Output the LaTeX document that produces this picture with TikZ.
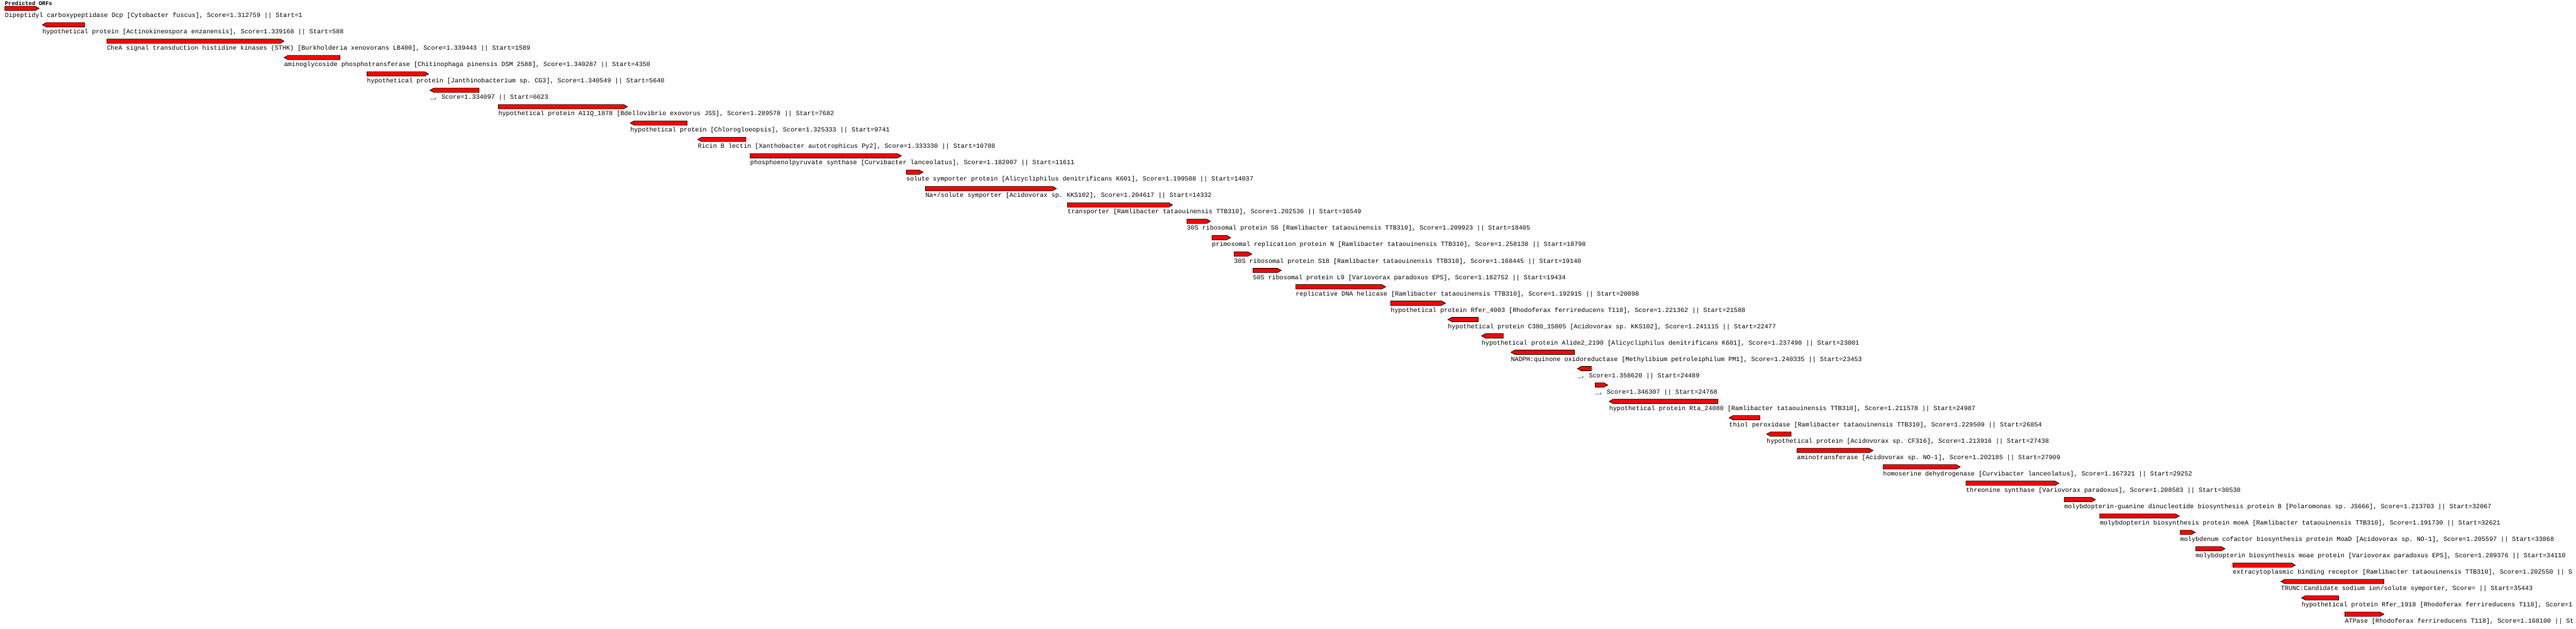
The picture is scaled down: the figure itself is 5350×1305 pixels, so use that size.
\documentclass[tikz,border=0pt]{standalone}
\usepackage{fontspec}
\setmonofont{Liberation Mono}
\definecolor{ink}{HTML}{000000}
\definecolor{orfred}{HTML}{FF0000}
\newcommand{\orffontsize}{\fontsize{13.2}{15}\selectfont}
\newcommand{\titlefontsize}{\fontsize{11.7}{14}\selectfont}
\tikzset{
  every picture/.style = {line join=miter},
  orfbar/.style        = {draw=ink, fill=orfred, line width=1pt},
  orflabel/.style      = {font=\ttfamily\orffontsize, text=ink, anchor=base west, inner sep=0pt},
  orftitle/.style      = {font=\ttfamily\bfseries\titlefontsize, text=ink, anchor=base west, inner sep=0pt},
}

\begin{document}
\begin{tikzpicture}[x=1pt, y=-1pt]
  % one unit = one pixel of the track, y runs downwards
  \useasboundingbox (0,0) rectangle (5350,1305);
  \fill[white] (0,0) rectangle (5350,1305);
  \clip (0,0) rectangle (5350,1305);

  % \orf{row}{left x}{right x}{R/L}{label}
  \newcommand{\orf}[5]{%
    \pgfmathsetmacro{\orftop}{13+34*(#1-1)}
    \pgfmathsetmacro{\orfbot}{\orftop+9}
    \pgfmathsetmacro{\orfmid}{\orftop+4.5}
    \if#4R
      \draw[orfbar] (#2,\orftop) -- ({#3-8},\orftop) -- (#3,\orfmid)
        -- ({#3-8},\orfbot) -- (#2,\orfbot) -- cycle;
    \else
      \draw[orfbar] (#2,\orfmid) -- ({#2+8},\orftop) -- (#3,\orftop)
        -- (#3,\orfbot) -- ({#2+8},\orfbot) -- cycle;
    \fi
    \node[orflabel] (orf#1) at (#2,{\orftop+23}) {#5};
  }

  \node[orftitle] (title) at (10,11.5) {Predicted ORFs};

  % --- first block -----------------------------------------------------------
  \orf{1}{10}{81}{R}{Dipeptidyl carboxypeptidase Dcp [Cytobacter fuscus], Score=1.312759 || Start=1}
  \orf{2}{88}{176}{L}{hypothetical protein [Actinokineospora enzanensis], Score=1.339168 || Start=588}
  \orf{3}{222}{590}{R}{CheA signal transduction histidine kinases (STHK) [Burkholderia xenovorans LB400], Score=1.339443 || Start=1589}
  \orf{4}{590}{706}{L}{aminoglycoside phosphotransferase [Chitinophaga pinensis DSM 2588], Score=1.340287 || Start=4350}
  \orf{5}{762}{890}{R}{hypothetical protein [Janthinobacterium sp. CG3], Score=1.340549 || Start=5640}
  \orf{6}{893}{995}{L}{\_, Score=1.334097 || Start=6623}
  \orf{7}{1035}{1303}{R}{hypothetical protein A11Q\_1878 [Bdellovibrio exovorus JSS], Score=1.289578 || Start=7682}
  \orf{8}{1309}{1427}{L}{hypothetical protein [Chlorogloeopsis], Score=1.325333 || Start=9741}
  \orf{9}{1449}{1549}{L}{Ricin B lectin [Xanthobacter autotrophicus Py2], Score=1.333330 || Start=10788}
  \orf{10}{1558}{1872}{R}{phosphoenolpyruvate synthase [Curvibacter lanceolatus], Score=1.182007 || Start=11611}
  \orf{11}{1882}{1917}{R}{solute symporter protein [Alicycliphilus denitrificans K601], Score=1.199508 || Start=14037}
  \orf{12}{1922}{2194}{R}{Na+/solute symporter [Acidovorax sp. KKS102], Score=1.204617 || Start=14332}
  \orf{13}{2217}{2435}{R}{transporter [Ramlibacter tataouinensis TTB310], Score=1.202536 || Start=16549}

  % --- ribosomal block -------------------------------------------------------
  \orf{14}{2465}{2514}{R}{30S ribosomal protein S6 [Ramlibacter tataouinensis TTB310], Score=1.209923 || Start=18405}
  \orf{15}{2517}{2556}{R}{primosomal replication protein N [Ramlibacter tataouinensis TTB310], Score=1.258138 || Start=18798}
  \orf{16}{2563}{2600}{R}{30S ribosomal protein S18 [Ramlibacter tataouinensis TTB310], Score=1.168445 || Start=19140}
  \orf{17}{2602}{2661}{R}{50S ribosomal protein L9 [Variovorax paradoxus EPS], Score=1.182752 || Start=19434}
  \orf{18}{2691}{2878}{R}{replicative DNA helicase [Ramlibacter tataouinensis TTB310], Score=1.192915 || Start=20098}
  \orf{19}{2888}{3002}{R}{hypothetical protein Rfer\_4003 [Rhodoferax ferrireducens T118], Score=1.221362 || Start=21588}
  \orf{20}{3007}{3070}{L}{hypothetical protein C380\_15005 [Acidovorax sp. KKS102], Score=1.241115 || Start=22477}
  \orf{21}{3077}{3122}{L}{hypothetical protein Alide2\_2190 [Alicycliphilus denitrificans K601], Score=1.237490 || Start=23001}
  \orf{22}{3138}{3270}{L}{NADPH:quinone oxidoreductase [Methylibium petroleiphilum PM1], Score=1.240335 || Start=23453}
  \orf{23}{3276}{3305}{L}{\_, Score=1.358620 || Start=24489}
  \orf{24}{3313}{3339}{R}{\_, Score=1.346307 || Start=24768}
  \orf{25}{3342}{3568}{L}{hypothetical protein Rta\_24080 [Ramlibacter tataouinensis TTB310], Score=1.211578 || Start=24987}
  \orf{26}{3591}{3655}{L}{thiol peroxidase [Ramlibacter tataouinensis TTB310], Score=1.229509 || Start=26854}
  \orf{27}{3669}{3720}{L}{hypothetical protein [Acidovorax sp. CF316], Score=1.213916 || Start=27438}

  % --- amino acid / molybdopterin block -------------------------------------
  \orf{28}{3732}{3890}{R}{aminotransferase [Acidovorax sp. NO-1], Score=1.202185 || Start=27909}
  \orf{29}{3911}{4071}{R}{homoserine dehydrogenase [Curvibacter lanceolatus], Score=1.167321 || Start=29252}
  \orf{30}{4083}{4276}{R}{threonine synthase [Variovorax paradoxus], Score=1.208583 || Start=30538}
  \orf{31}{4287}{4352}{R}{molybdopterin-guanine dinucleotide biosynthesis protein B [Polaromonas sp. JS666], Score=1.213703 || Start=32067}
  \orf{32}{4361}{4526}{R}{molybdopterin biosynthesis protein moeA [Ramlibacter tataouinensis TTB310], Score=1.191730 || Start=32621}
  \orf{33}{4528}{4559}{R}{molybdenum cofactor biosynthesis protein MoaD [Acidovorax sp. NO-1], Score=1.205597 || Start=33868}
  \orf{34}{4560}{4621}{R}{molybdopterin biosynthesis moae protein [Variovorax paradoxus EPS], Score=1.209376 || Start=34110}
  % labels below run off the right edge
  \orf{35}{4637}{4767}{R}{extracytoplasmic binding receptor [Ramlibacter tataouinensis TTB310], Score=1.202550 || S}
  \orf{36}{4737}{4951}{L}{TRUNC:Candidate sodium ion/solute symporter, Score= || Start=35443}
  \orf{37}{4780}{4857}{L}{hypothetical protein Rfer\_1918 [Rhodoferax ferrireducens T118], Score=1}
  \orf{38}{4870}{4951}{R}{ATPase [Rhodoferax ferrireducens T118], Score=1.168100 || St}
\end{tikzpicture}
\end{document}
